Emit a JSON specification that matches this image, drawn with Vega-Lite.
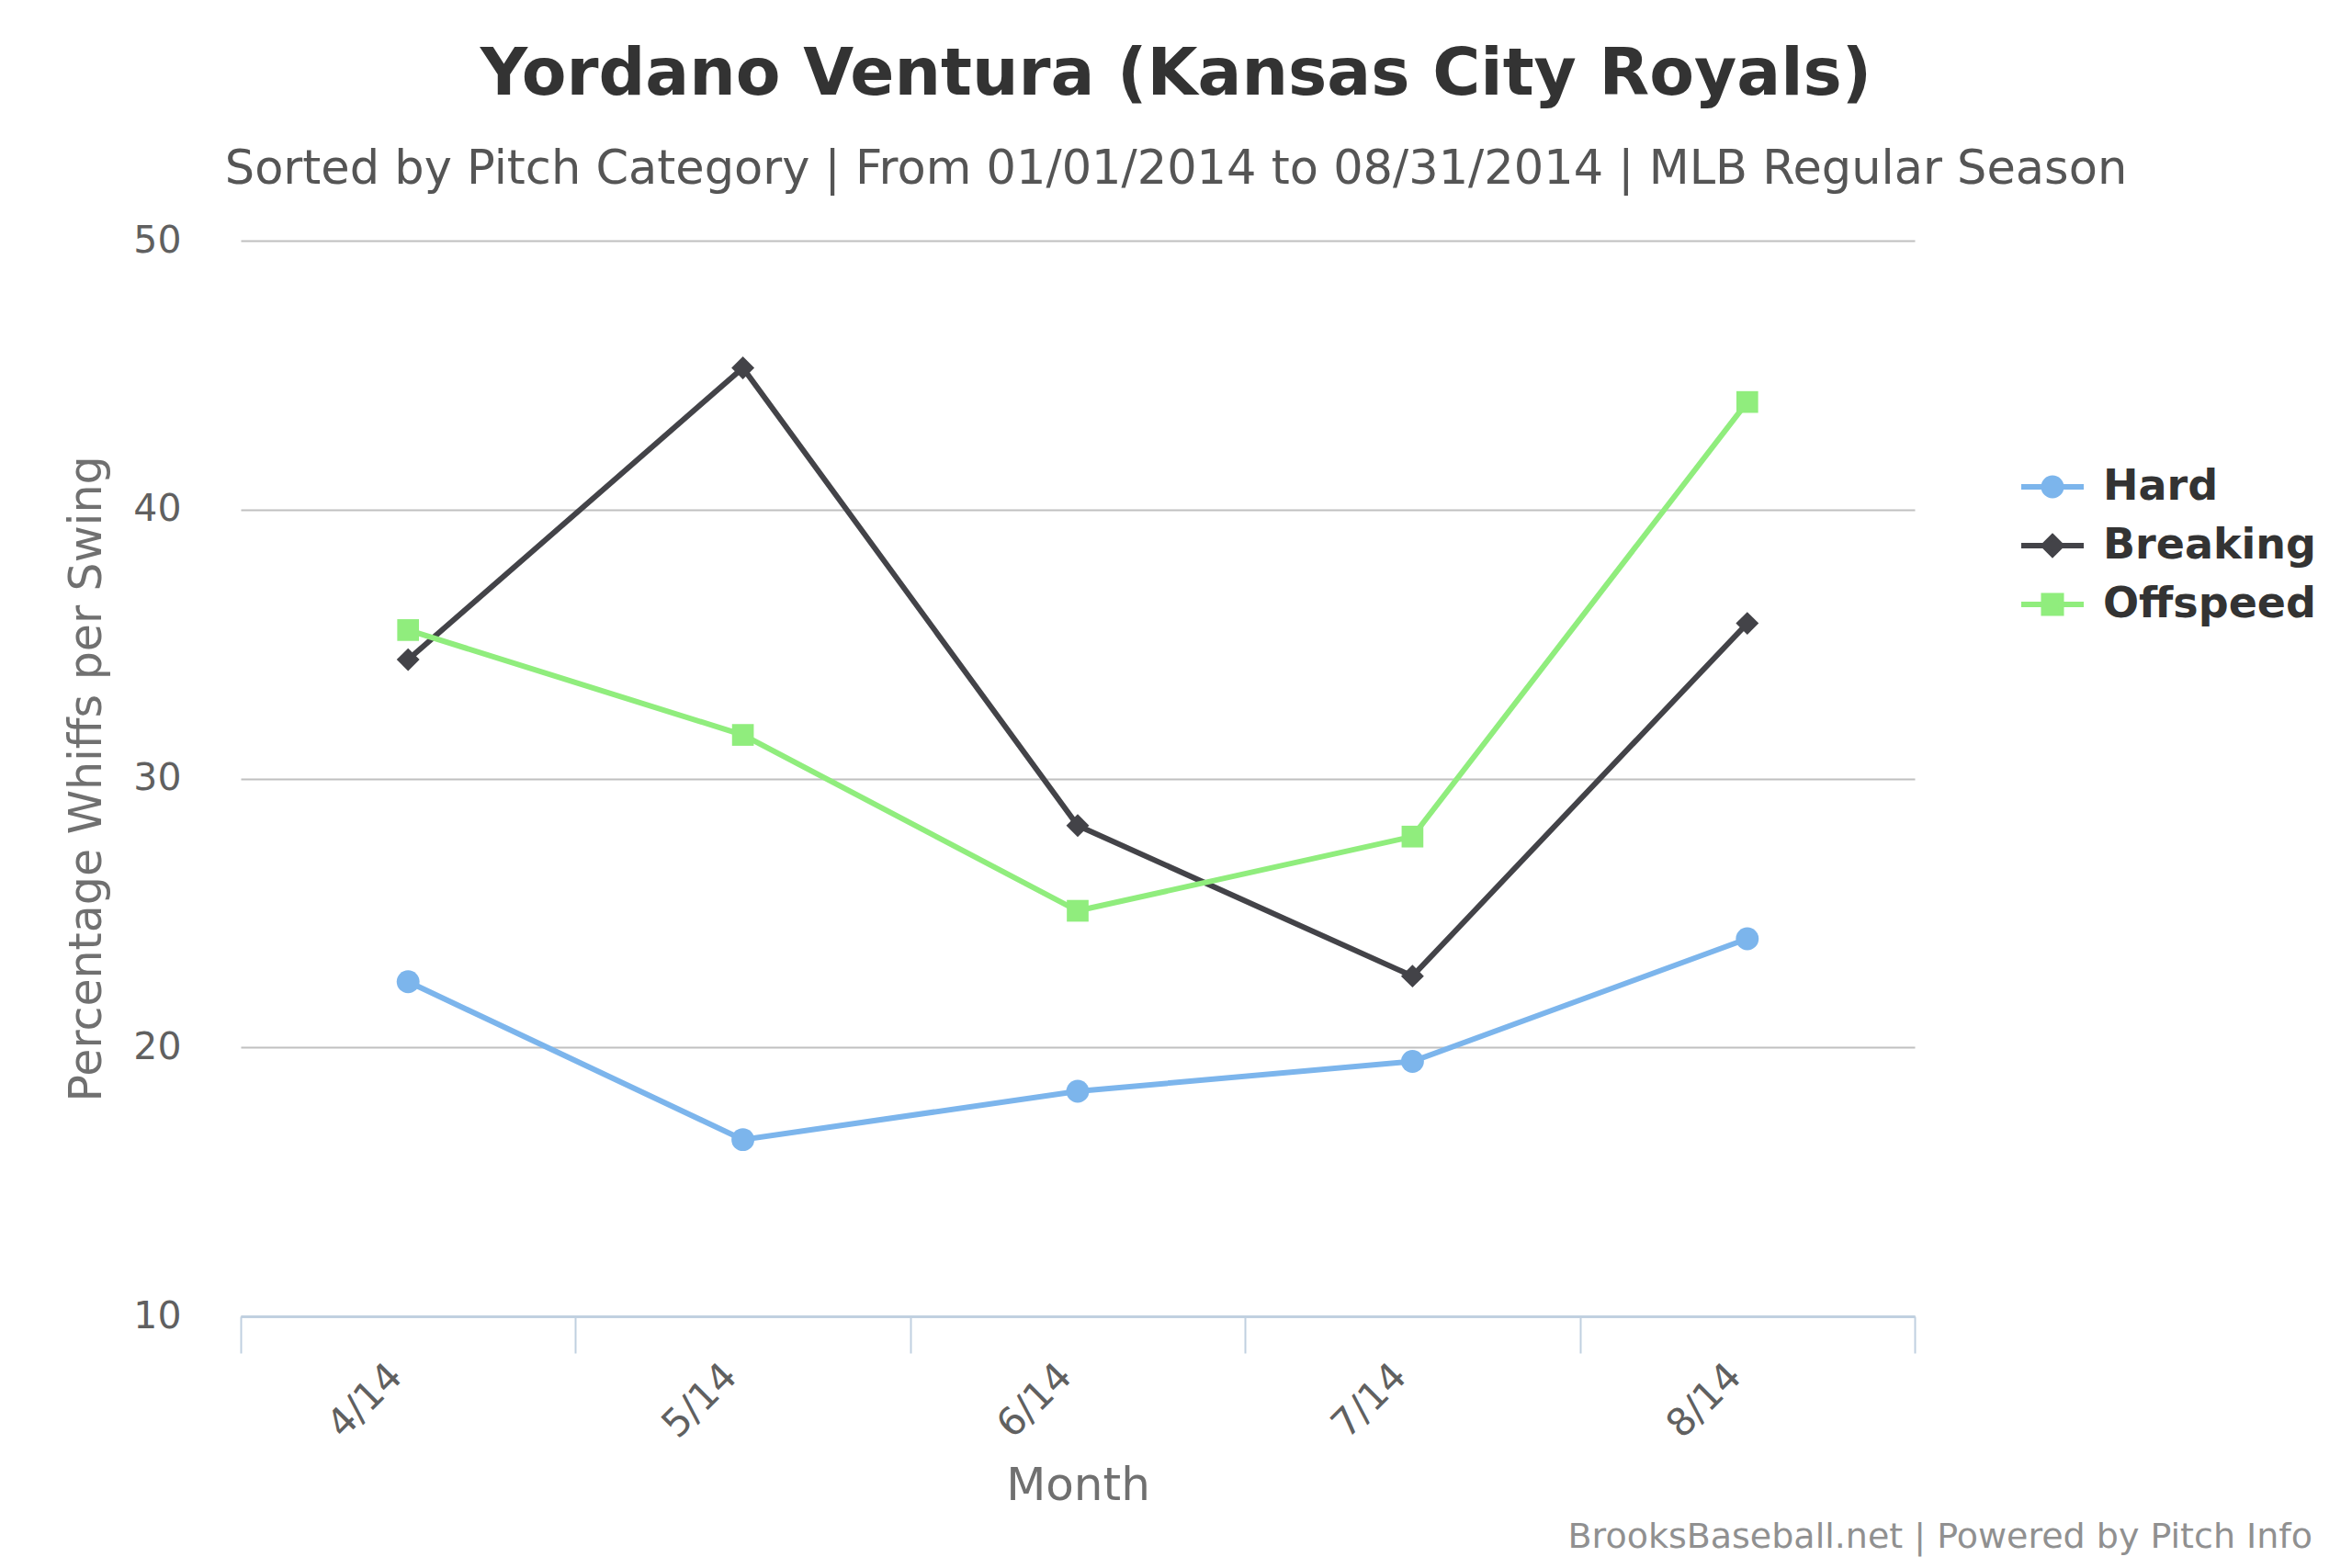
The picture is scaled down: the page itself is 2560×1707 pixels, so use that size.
{
  "$schema": "https://vega.github.io/schema/vega-lite/v6.json",
  "width": 1822,
  "height": 1171,
  "autosize": {"type": "none"},
  "padding": {"left": 262, "top": 262, "right": 476, "bottom": 274},
  "background": "white",
  "config": {"view": {"stroke": null}, "font": "DejaVu Sans"},
  "title": {
    "text": "Yordano Ventura (Kansas City Royals)",
    "subtitle": "Sorted by Pitch Category | From 01/01/2014 to 08/31/2014 | MLB Regular Season",
    "anchor": "middle",
    "frame": "group",
    "dx": 107,
    "font": "DejaVu Sans",
    "fontSize": 71,
    "fontWeight": "bold",
    "color": "#333333",
    "subtitleFont": "DejaVu Sans",
    "subtitleFontSize": 51,
    "subtitleColor": "#555555",
    "subtitlePadding": 42,
    "offset": 30
  },
  "data": {
    "values": [
      {"month": "4/14", "pitch": "Hard", "whiff": 22.44},
      {"month": "5/14", "pitch": "Hard", "whiff": 16.57},
      {"month": "6/14", "pitch": "Hard", "whiff": 18.37},
      {"month": "7/14", "pitch": "Hard", "whiff": 19.48},
      {"month": "8/14", "pitch": "Hard", "whiff": 24.04},
      {"month": "4/14", "pitch": "Breaking", "whiff": 34.42},
      {"month": "5/14", "pitch": "Breaking", "whiff": 45.27},
      {"month": "6/14", "pitch": "Breaking", "whiff": 28.25},
      {"month": "7/14", "pitch": "Breaking", "whiff": 22.65},
      {"month": "8/14", "pitch": "Breaking", "whiff": 35.77},
      {"month": "4/14", "pitch": "Offspeed", "whiff": 35.52},
      {"month": "5/14", "pitch": "Offspeed", "whiff": 31.62},
      {"month": "6/14", "pitch": "Offspeed", "whiff": 25.08},
      {"month": "7/14", "pitch": "Offspeed", "whiff": 27.84},
      {"month": "8/14", "pitch": "Offspeed", "whiff": 44.0}
    ]
  },
  "layer": [
    {
      "encoding": {
        "x": {
          "field": "month",
          "type": "ordinal",
          "sort": ["4/14", "5/14", "6/14", "7/14", "8/14"],
          "scale": {"type": "band", "paddingInner": 0, "paddingOuter": 0},
          "axis": {
            "title": "Month",
            "titleFontSize": 50,
            "titleColor": "#707070",
            "titleFontWeight": "normal",
            "titlePadding": 20,
            "labelAngle": -45,
            "labelFontSize": 42,
            "labelColor": "#606060",
            "labelPadding": 4,
            "labelOffset": -28,
            "tickBand": "extent",
            "tickSize": 40,
            "tickColor": "#C0D0E0",
            "tickWidth": 2,
            "domainColor": "#C0D0E0",
            "domainWidth": 3,
            "grid": false
          }
        },
        "y": {
          "field": "whiff",
          "type": "quantitative",
          "scale": {"domain": [10, 50], "nice": false, "zero": false},
          "axis": {
            "title": "Percentage Whiffs per Swing",
            "titleFontSize": 49,
            "titleColor": "#707070",
            "titleFontWeight": "normal",
            "titlePadding": 25,
            "values": [10, 20, 30, 40, 50],
            "labelFontSize": 41,
            "labelColor": "#606060",
            "labelPadding": 65,
            "ticks": false,
            "domain": false,
            "gridColor": "#C0C0C0",
            "gridWidth": 2
          }
        },
        "color": {
          "field": "pitch",
          "type": "nominal",
          "scale": {"domain": ["Hard", "Breaking", "Offspeed"], "range": ["#7cb5ec", "#434348", "#90ed7d"]},
          "legend": {
            "title": null,
            "orient": "none",
            "legendX": 1935,
            "legendY": 231,
            "padding": 0,
            "labelFont": "DejaVu Sans",
            "labelFontSize": 46,
            "labelFontWeight": "bold",
            "labelColor": "#333333",
            "labelOffset": 18,
            "labelLimit": 500,
            "rowPadding": 4,
            "symbolSize": 4624,
            "symbolStrokeWidth": 6,
            "encode": {
              "symbols": {
                "update": {
                  "shape": {"signal": "datum.value === 'Hard' ? 'M-1,0L1,0M0.28,0A0.28,0.28,0,1,1,-0.28,0A0.28,0.28,0,1,1,0.28,0Z' : datum.value === 'Breaking' ? 'M-1,0L1,0M0,-0.28L0.28,0L0,0.28L-0.28,0Z' : 'M-1,0L1,0M-0.28,-0.28L0.28,-0.28L0.28,0.28L-0.28,0.28Z'"},
                  "fill": {"scale": "color", "field": "value"},
                  "stroke": {"scale": "color", "field": "value"},
                  "fillOpacity": {"value": 1},
                  "strokeOpacity": {"value": 1},
                  "opacity": {"value": 1}
                }
              }
            }
          }
        }
      },
      "layer": [
        {"mark": {"type": "line", "strokeWidth": 6}},
        {
          "transform": [{"filter": "datum.pitch === 'Hard'"}],
          "mark": {"type": "point", "shape": "circle", "filled": true, "opacity": 1, "size": 620}
        },
        {
          "transform": [{"filter": "datum.pitch === 'Breaking'"}],
          "mark": {"type": "point", "shape": "diamond", "filled": true, "opacity": 1, "size": 620}
        },
        {
          "transform": [{"filter": "datum.pitch === 'Offspeed'"}],
          "mark": {"type": "point", "shape": "square", "filled": true, "opacity": 1, "size": 560}
        }
      ]
    },
    {
      "data": {"values": [{"credit": "BrooksBaseball.net | Powered by Pitch Info"}]},
      "mark": {"type": "text", "align": "right", "baseline": "alphabetic", "dx": 433, "dy": 252, "fontSize": 38, "color": "#909090", "font": "DejaVu Sans"},
      "encoding": {
        "text": {"field": "credit"},
        "x": {"value": "width"},
        "y": {"value": "height"}
      }
    }
  ]
}
